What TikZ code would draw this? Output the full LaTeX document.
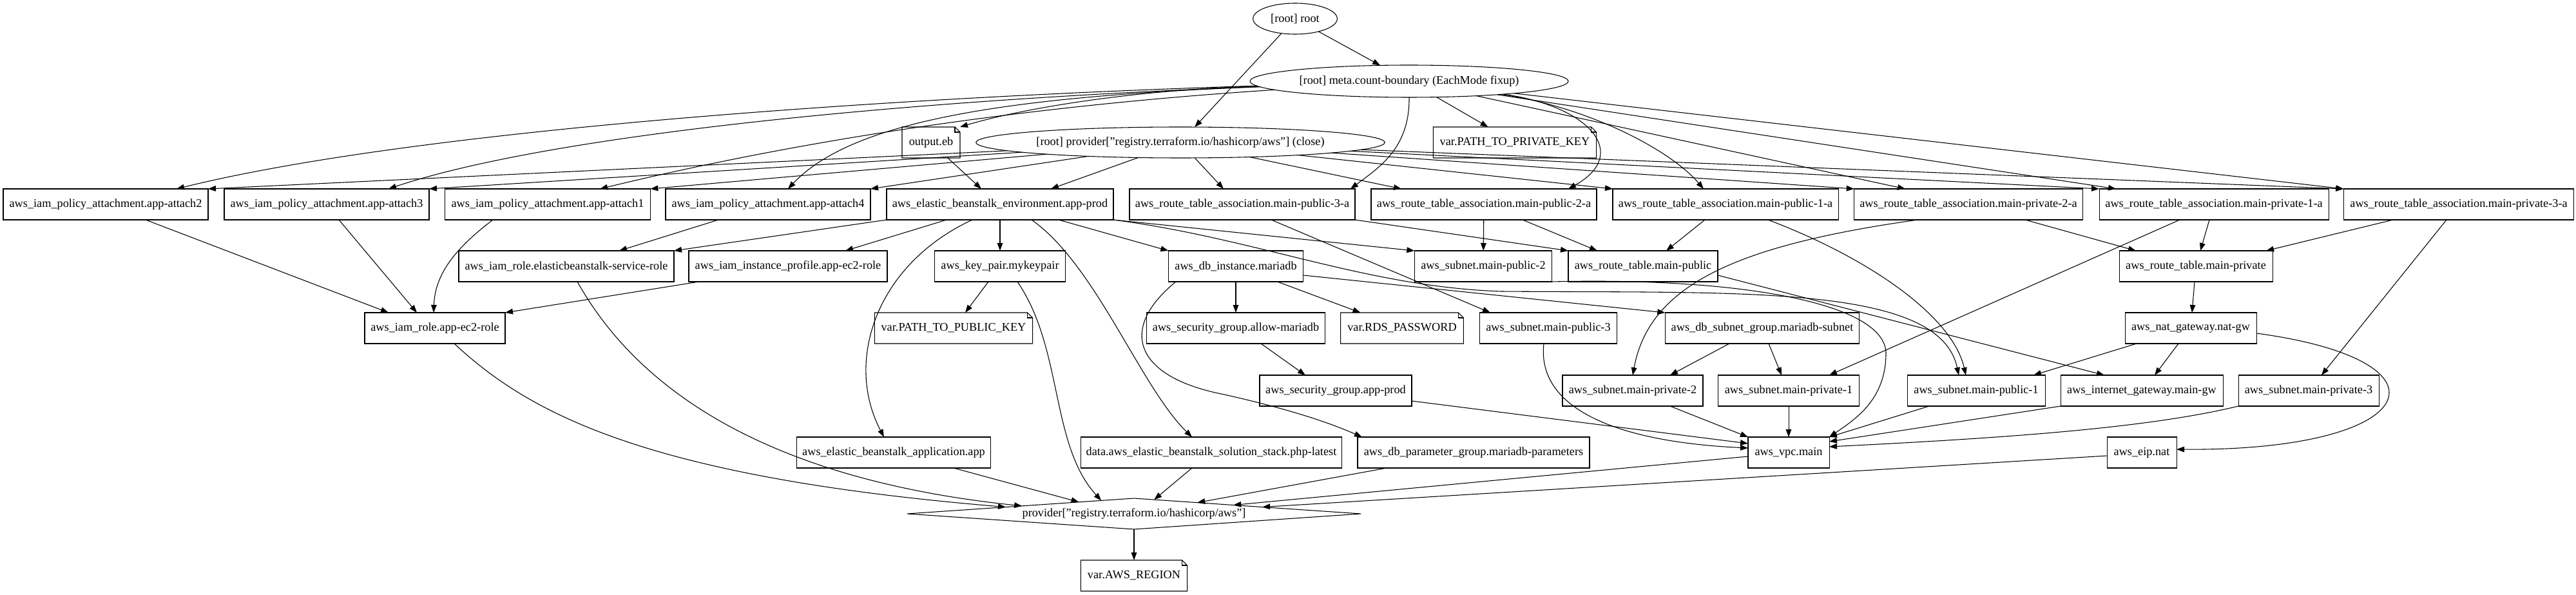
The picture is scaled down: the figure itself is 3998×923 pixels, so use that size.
\documentclass[tikz,border=0pt]{standalone}
\usepackage{fontspec}
\setmainfont{Liberation Serif}
\usetikzlibrary{shapes.geometric,arrows.meta}
\newcommand\notefold[1]{%
  \draw[lw,line join=miter] (#1.north west) -- ([xshift=-6pt]#1.north east) -- ([yshift=-6pt]#1.north east) -- (#1.south east) -- (#1.south west) -- cycle;
  \draw[lw] ([xshift=-6pt]#1.north east) -- ([xshift=-6pt,yshift=-6pt]#1.north east) -- ([yshift=-6pt]#1.north east);}
\begin{document}
\begin{tikzpicture}[x=0.75pt,y=-0.75pt,
  lw/.style={line width=0.8pt},
  base/.style={font=\fontsize{13.7pt}{16pt}\selectfont, inner xsep=3pt, inner ysep=0pt, minimum height=36pt, outer sep=0pt},
  rbox/.style={base, draw, lw, rectangle},
  nbox/.style={base, rectangle},
  ell/.style={base, draw, lw, ellipse, inner sep=0pt},
  dia/.style={base, draw, lw, diamond, shape aspect=14.67, inner sep=0pt},
  e/.style={lw, -{Triangle[length=9pt,width=6.5pt]}}]
\useasboundingbox (0,0) rectangle (3998,923);
\fill[white] (0,0) rectangle (3998,923);

% ---------- nodes ----------
\node[ell, minimum width=98pt, minimum height=36pt] (root) at (2010,29) {[root] root};
\node[ell, minimum width=370.5pt, minimum height=37.5pt] (meta) at (2187,126) {[root] meta.count-boundary (EachMode fixup)};
\node[nbox, minimum width=67.5pt] (outputeb) at (1445,221) {output.eb};
\node[ell, minimum width=476pt, minimum height=36pt] (provclose) at (1832,221) {[root] provider["registry.terraform.io/hashicorp/aws"] (close)};
\node[nbox, minimum width=190pt] (privkey) at (2351,221) {var.PATH\_TO\_PRIVATE\_KEY};

\node[rbox, minimum width=238.5pt] (attach2) at (164,317) {aws\_iam\_policy\_attachment.app-attach2};
\node[rbox, minimum width=238.5pt] (attach3) at (507,317) {aws\_iam\_policy\_attachment.app-attach3};
\node[rbox, minimum width=239pt] (attach1) at (850,317) {aws\_iam\_policy\_attachment.app-attach1};
\node[rbox, minimum width=238.5pt] (attach4) at (1192,317) {aws\_iam\_policy\_attachment.app-attach4};
\node[rbox, minimum width=264pt] (env) at (1552,317) {aws\_elastic\_beanstalk\_environment.app-prod};
\node[rbox, minimum width=262.5pt] (pub3a) at (1928,317) {aws\_route\_table\_association.main-public-3-a};
\node[rbox, minimum width=262.5pt] (pub2a) at (2303,317) {aws\_route\_table\_association.main-public-2-a};
\node[rbox, minimum width=262.5pt] (pub1a) at (2678,317) {aws\_route\_table\_association.main-public-1-a};
\node[rbox, minimum width=266pt] (priv2a) at (3055,317) {aws\_route\_table\_association.main-private-2-a};
\node[rbox, minimum width=267pt] (priv1a) at (3436,317) {aws\_route\_table\_association.main-private-1-a};
\node[rbox, minimum width=268pt] (priv3a) at (3816,317) {aws\_route\_table\_association.main-private-3-a};

\node[rbox, minimum width=250.5pt] (ebrole) at (879,413) {aws\_iam\_role.elasticbeanstalk-service-role};
\node[rbox, minimum width=231pt] (instprof) at (1223,413) {aws\_iam\_instance\_profile.app-ec2-role};
\node[rbox, minimum width=152pt] (keypair) at (1552,413) {aws\_key\_pair.mykeypair};
\node[rbox, minimum width=157pt] (dbinst) at (1918,413) {aws\_db\_instance.mariadb};
\node[rbox, minimum width=160pt] (subpub2) at (2302,413) {aws\_subnet.main-public-2};
\node[rbox, minimum width=174pt] (rtpub) at (2550,413) {aws\_route\_table.main-public};
\node[rbox, minimum width=178.5pt] (rtpriv) at (3408,413) {aws\_route\_table.main-private};

\node[rbox, minimum width=163.5pt] (ec2role) at (675,509) {aws\_iam\_role.app-ec2-role};
\node[nbox, minimum width=184pt] (pubkey) at (1480,509) {var.PATH\_TO\_PUBLIC\_KEY};
\node[rbox, minimum width=208pt] (allowmaria) at (1918,509) {aws\_security\_group.allow-mariadb};
\node[nbox, minimum width=143pt] (rdspw) at (2176,509) {var.RDS\_PASSWORD};
\node[rbox, minimum width=160pt] (subpub3) at (2403,509) {aws\_subnet.main-public-3};
\node[rbox, minimum width=226pt] (dbsubgrp) at (2735,509) {aws\_db\_subnet\_group.mariadb-subnet};
\node[rbox, minimum width=153pt] (natgw) at (3400,509) {aws\_nat\_gateway.nat-gw};

\node[rbox, minimum width=177pt] (sgprod) at (2073,606) {aws\_security\_group.app-prod};
\node[rbox, minimum width=163.5pt] (subpriv2) at (2534,606) {aws\_subnet.main-private-2};
\node[rbox, minimum width=164pt] (subpriv1) at (2776,606) {aws\_subnet.main-private-1};
\node[rbox, minimum width=160.5pt] (subpub1) at (3067,606) {aws\_subnet.main-public-1};
\node[rbox, minimum width=189pt] (igw) at (3324,606) {aws\_internet\_gateway.main-gw};
\node[rbox, minimum width=163.5pt] (subpriv3) at (3583,606) {aws\_subnet.main-private-3};

\node[rbox, minimum width=226pt] (ebapp) at (1387,702) {aws\_elastic\_beanstalk\_application.app};
\node[rbox, minimum width=304pt] (solstack) at (1880,702) {data.aws\_elastic\_beanstalk\_solution\_stack.php-latest};
\node[rbox, minimum width=270pt] (dbparam) at (2287,702) {aws\_db\_parameter\_group.mariadb-parameters};
\node[rbox, minimum width=94.5pt] (vpc) at (2776,702) {aws\_vpc.main};
\node[rbox, minimum width=81pt] (eip) at (3324,702) {aws\_eip.nat};

\node[dia, minimum width=528pt, minimum height=36pt] (diamond) at (1760,797) {provider["registry.terraform.io/hashicorp/aws"]};
\node[nbox, minimum width=124pt] (awsregion) at (1760,893) {var.AWS\_REGION};

\notefold{outputeb}
\notefold{privkey}
\notefold{pubkey}
\notefold{rdspw}
\notefold{awsregion}

% ---------- edges ----------
\draw[e] (root) -- (meta);
\draw[e] (root) -- (provclose);

% meta.count-boundary
\draw[e] (meta) .. controls (1400,150) and (650,200) .. ([shift={(110,0)}]attach2.north);
\draw[e] (meta) .. controls (1400,155) and (850,210) .. ([shift={(96,0)}]attach3.north);
\draw[e] (meta) .. controls (1500,170) and (1150,240) .. ([shift={(81,0)}]attach1.north);
\draw[e] (meta) .. controls (1550,150) and (1320,190) .. ([shift={(31,0)}]attach4.north);
\draw[e] (meta) .. controls (1750,140) and (1580,170) .. (outputeb.north east);
\draw[e] (meta.south) .. controls (2188,230) and (2140,260) .. ([shift={(168,0)}]pub3a.north);
\draw[e] (meta) -- (privkey);
\draw[e] (meta) .. controls (2470,165) and (2530,240) .. ([shift={(131,0)}]pub2a.north);
\draw[e] (meta) .. controls (2460,165) and (2590,230) .. ([shift={(-34,0)}]pub1a.north);
\draw[e] (meta) -- ([shift={(-98,0)}]priv2a.north);
\draw[e] (meta) -- ([shift={(-152,0)}]priv1a.north);
\draw[e] (meta) -- (priv3a.north west);

% provider (close)
\draw[e] (provclose) -- (attach2.north east);
\draw[e] (provclose) -- (attach3.north east);
\draw[e] (provclose) -- (attach1.north east);
\draw[e] (provclose) -- (attach4.north east);
\draw[e] (provclose) -- ([shift={(79,0)}]env.north);
\draw[e] (provclose) -- ([shift={(-29,0)}]pub3a.north);
\draw[e] (provclose) -- ([shift={(-128,0)}]pub2a.north);
\draw[e] (provclose) -- (pub1a.north west);
\draw[e] (provclose) -- (priv2a.north west);
\draw[e] (provclose) -- (priv1a.north west);
\draw[e] (provclose) -- (priv3a.north west);

\draw[e] (outputeb) -- ([shift={(-29,0)}]env.north);

% environment
\draw[e] (env.south west) -- (ebrole.north east);
\draw[e] ([shift={(-83,0)}]env.south) -- ([shift={(89,0)}]instprof.north);
\draw[e] (env) -- (keypair);
\draw[e] ([shift={(91,0)}]env.south) -- (dbinst.north west);
\draw[e] ([shift={(-43,0)}]env.south) .. controls (1360,410) and (1310,560) .. ([shift={(-15,0)}]ebapp.north);
\draw[e] ([shift={(49,0)}]env.south) .. controls (1700,410) and (1770,600) .. ([shift={(-30,0)}]solstack.north);
\draw[e] (env.south east) -- (subpub2.north west);
\draw[e] (env.south east) .. controls (1950,370) and (2120,445) .. (2330,452) .. controls (2700,455) and (3010,440) .. ([shift={(-27,0)}]subpub1.north);

% key pair
\draw[e] (keypair) -- (pubkey);
\draw[e] ([shift={(27,0)}]keypair.south) .. controls (1650,540) and (1630,690) .. (diamond.158);

% db instance
\draw[e] (dbinst) -- (allowmaria);
\draw[e] (dbinst) -- (rdspw);
\draw[e] ([shift={(0,14)}]dbinst.east) -- (dbsubgrp.north west);
\draw[e] ([shift={(-93,0)}]dbinst.south) .. controls (1735,510) and (1760,585) .. (1900,612) .. controls (1980,630) and (2050,650) .. ([shift={(-173,0)}]dbparam.north);

\draw[e] ([shift={(39,0)}]allowmaria.south) -- ([shift={(-47,0)}]sgprod.north);
\draw[e] ([shift={(0,16)}]sgprod.east) -- ([shift={(0,-14)}]vpc.west);
\draw[e] ([shift={(-7,0)}]subpub3.south) .. controls (2385,630) and (2500,685) .. ([shift={(0,-7)}]vpc.west);

\draw[e] ([shift={(-51,0)}]dbsubgrp.south) -- ([shift={(58,0)}]subpriv2.north);
\draw[e] ([shift={(10,0)}]dbsubgrp.south) -- ([shift={(-11,0)}]subpriv1.north);

\draw[e] ([shift={(58,0)}]subpriv2.south) -- (vpc.north west);
\draw[e] (subpriv1) -- (vpc);
\draw[e] (subpub2.south east) .. controls (2700,430) and (2930,470) .. (2927,550) .. controls (2926,620) and (2880,650) .. (vpc.north east);
\draw[e] ([shift={(-73,0)}]subpub1.south) -- (vpc.north east);
\draw[e] (igw.south west) -- ([shift={(0,-17)}]vpc.east);
\draw[e] (subpriv3.south west) .. controls (3330,665) and (3100,680) .. ([shift={(0,-9)}]vpc.east);

% into provider
\draw[e] ([shift={(0,6)}]vpc.west) -- (diamond.5);
\draw[e] ([shift={(0,5)}]eip.west) -- (diamond.3);
\draw[e] ([shift={(-135,0)}]dbparam.south) -- (diamond.10);
\draw[e] ([shift={(-30,0)}]solstack.south) -- (diamond.35);
\draw[e] ([shift={(93,0)}]ebapp.south) -- (diamond.168);
\draw[e] ([shift={(17,0)}]ebrole.south) .. controls (1010,640) and (1250,750) .. (diamond.176);
\draw[e] ([shift={(30,0)}]ec2role.south) .. controls (820,640) and (1000,740) .. (diamond.177);
\draw[e] (diamond) -- (awsregion);

% iam
\draw[e] ([shift={(62,0)}]attach2.south) -- ([shift={(-72,0)}]ec2role.north);
\draw[e] ([shift={(19,0)}]attach3.south) -- ([shift={(-28,0)}]ec2role.north);
\draw[e] ([shift={(-85,0)}]attach1.south) .. controls (700,390) and (675,430) .. ([shift={(-2,0)}]ec2role.north);
\draw[e] ([shift={(-138,0)}]instprof.south) -- (ec2role.north east);
\draw[e] ([shift={(-77,0)}]attach4.south) -- ([shift={(82,0)}]ebrole.north);

% route table associations
\draw[e] (pub3a.south east) -- (rtpub.north west);
\draw[e] ([shift={(45,0)}]pub3a.south) -- ([shift={(-90,0)}]subpub3.north);
\draw[e] (pub2a) -- (subpub2);
\draw[e] ([shift={(60,0)}]pub2a.south) -- ([shift={(-71,0)}]rtpub.north);
\draw[e] ([shift={(-32,0)}]pub1a.south) -- ([shift={(36,0)}]rtpub.north);
\draw[e] ([shift={(66,0)}]pub1a.south) .. controls (2900,400) and (3030,490) .. ([shift={(-16,0)}]subpub1.north);
\draw[e] ([shift={(0,14)}]rtpub.east) -- ([shift={(-58,0)}]igw.north);
\draw[e] ([shift={(-79,0)}]priv2a.south) .. controls (2700,380) and (2560,440) .. (subpriv2.north);
\draw[e] ([shift={(88,0)}]priv2a.south) -- ([shift={(-93,0)}]rtpriv.north);
\draw[e] ([shift={(-53,0)}]priv1a.south) -- ([shift={(63,0)}]subpriv1.north);
\draw[e] ([shift={(-7,0)}]priv1a.south) -- ([shift={(7,0)}]rtpriv.north);
\draw[e] ([shift={(-102,0)}]priv3a.south) -- ([shift={(109,0)}]rtpriv.north);
\draw[e] ([shift={(-19,0)}]priv3a.south) -- ([shift={(20,0)}]subpriv3.north);
\draw[e] (rtpriv) -- (natgw);
\draw[e] ([shift={(-84,0)}]natgw.south) -- ([shift={(89,0)}]subpub1.north);
\draw[e] ([shift={(-19,0)}]natgw.south) -- ([shift={(20,0)}]igw.north);
\draw[e] ([shift={(0,8)}]natgw.east) .. controls (3820,560) and (3760,700) .. ([shift={(0,-5)}]eip.east);
\end{tikzpicture}
\end{document}
